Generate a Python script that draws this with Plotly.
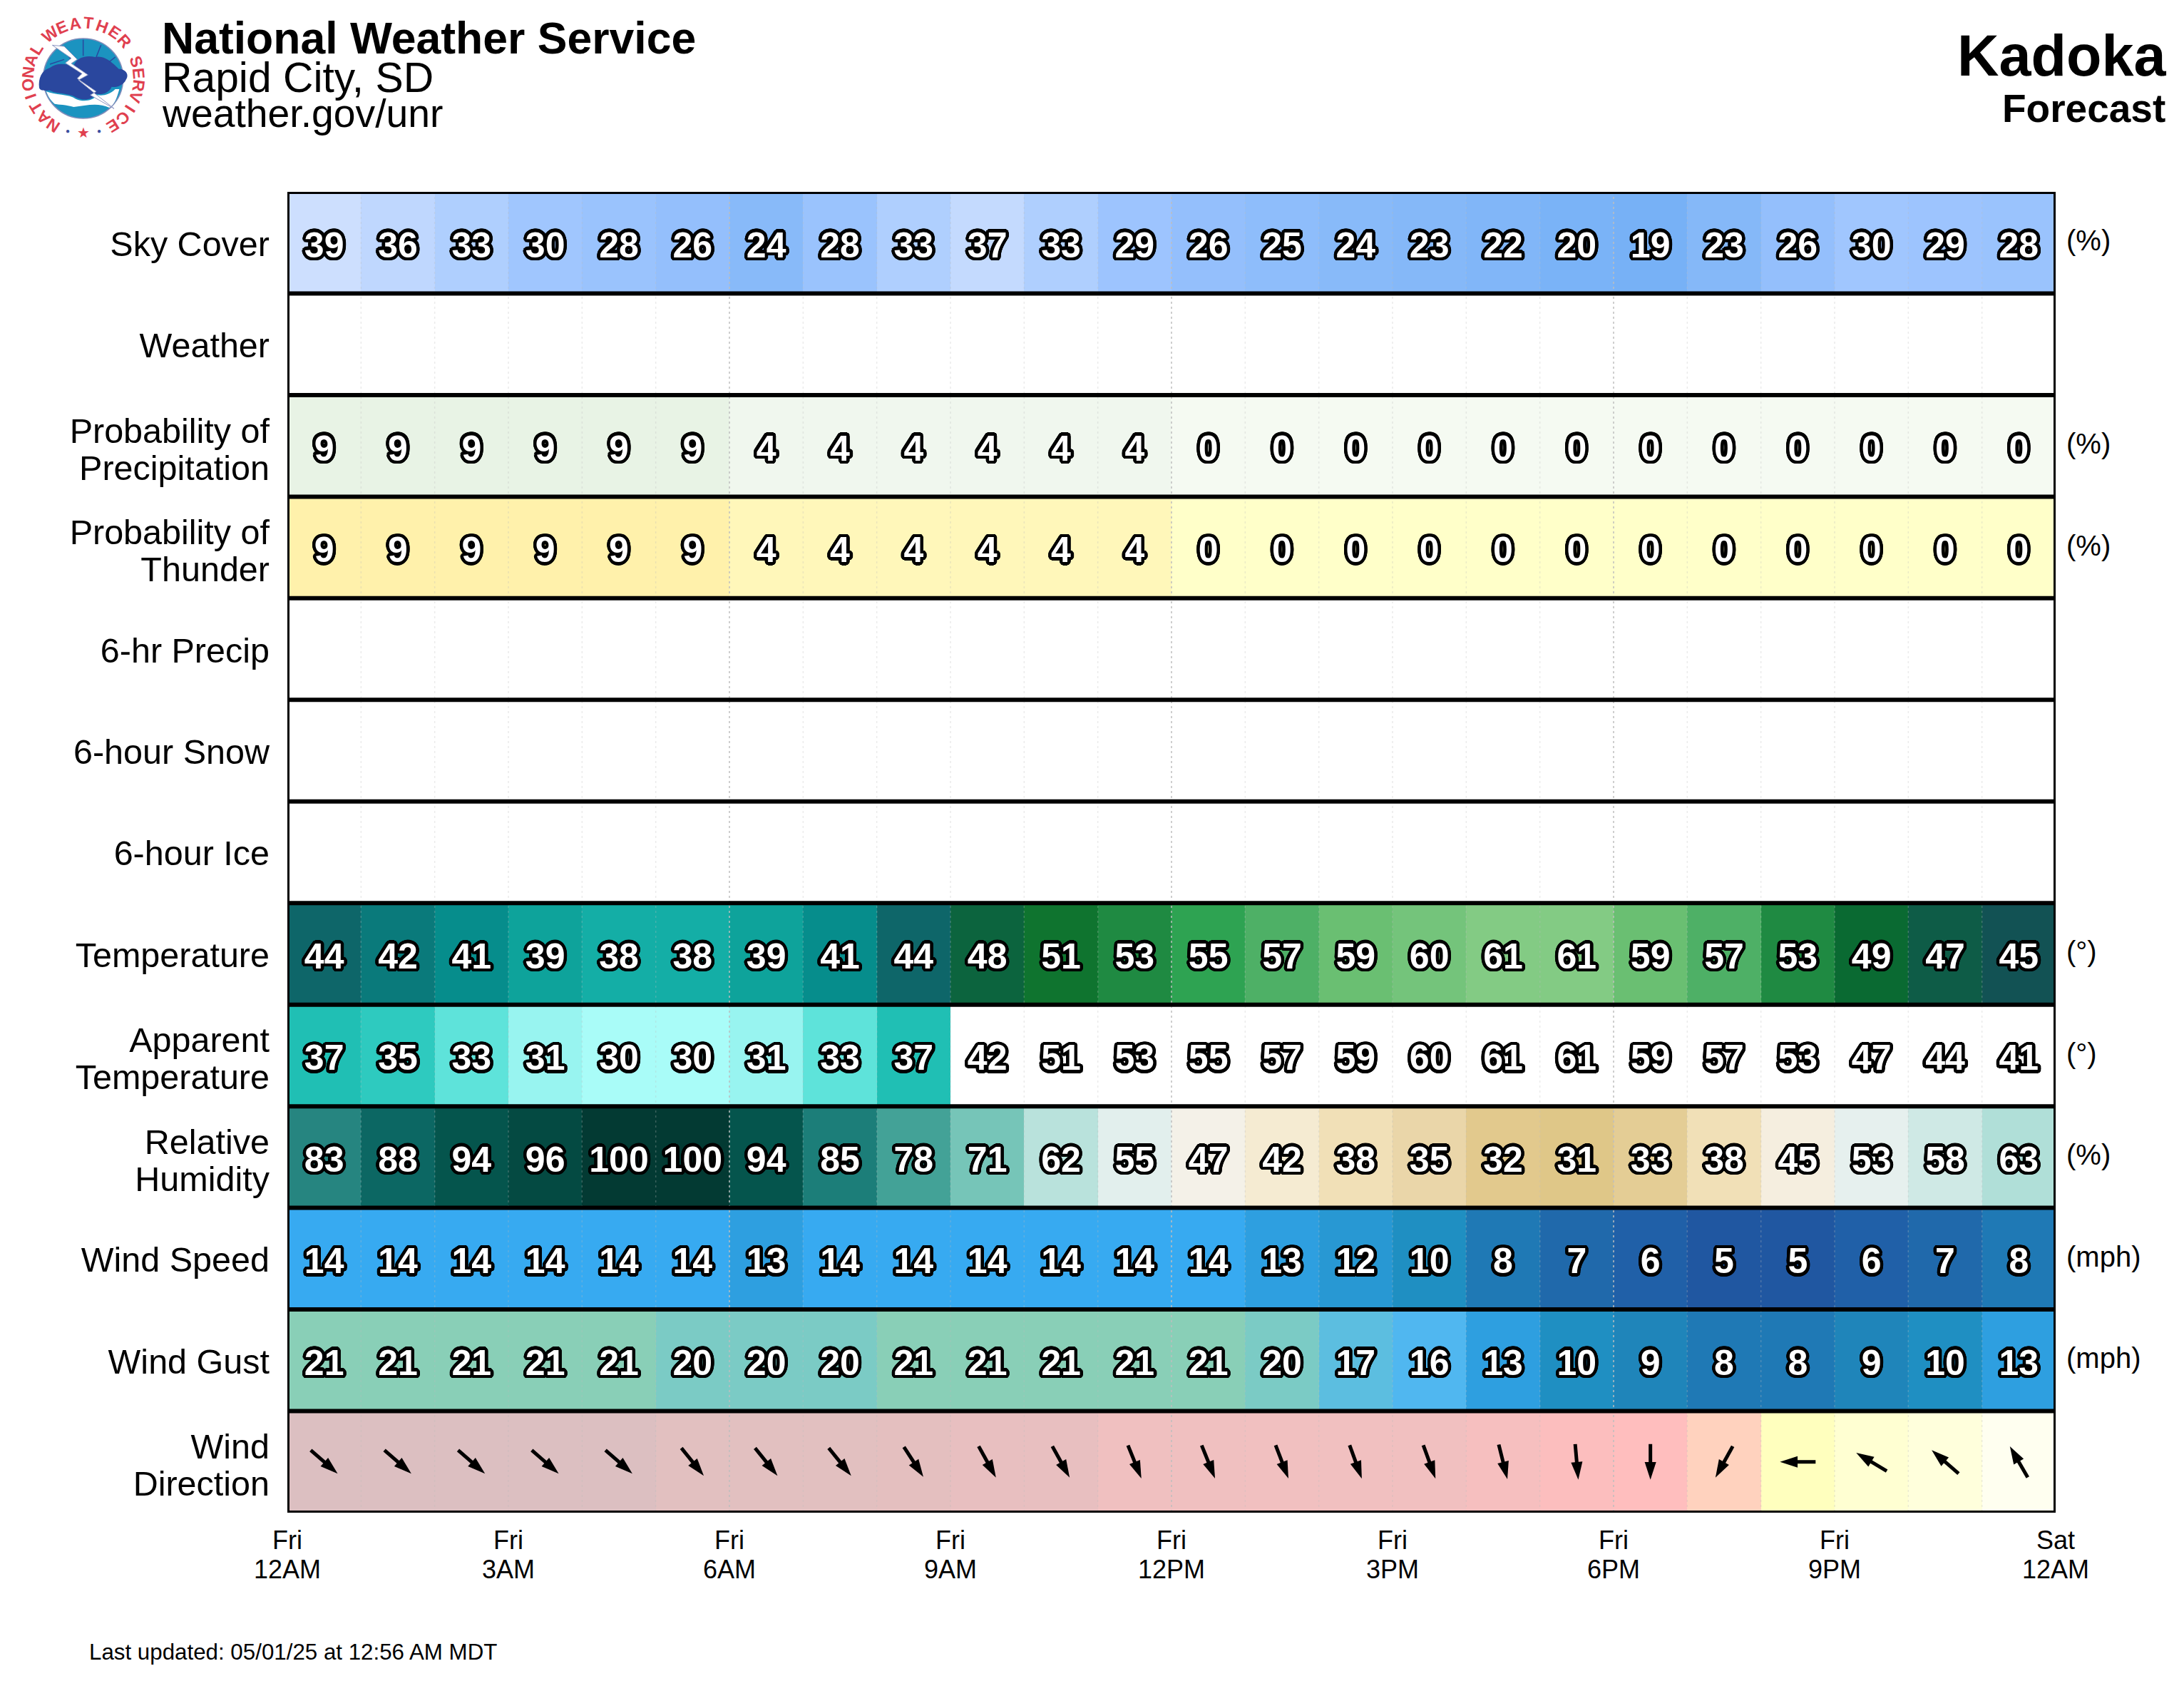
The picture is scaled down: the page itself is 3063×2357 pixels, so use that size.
import math
import re
import plotly.graph_objects as go

W, H = 3063, 2357
L, R, T, B = 403, 2883, 269, 2121
FONT = "Liberation Sans"

# ---------- data ----------
hour_ticks = [0, 3, 6, 9, 12, 15, 18, 21, 24]
day_labels = ["Fri", "Fri", "Fri", "Fri", "Fri", "Fri", "Fri", "Fri", "Sat"]
time_labels = ["12AM", "3AM", "6AM", "9AM", "12PM", "3PM", "6PM", "9PM", "12AM"]

sky_cover = [39, 36, 33, 30, 28, 26, 24, 28, 33, 37, 33, 29, 26, 25, 24, 23, 22, 20, 19, 23, 26, 30, 29, 28]
precip_prob = [9, 9, 9, 9, 9, 9, 4, 4, 4, 4, 4, 4, 0, 0, 0, 0, 0, 0, 0, 0, 0, 0, 0, 0]
thunder_prob = [9, 9, 9, 9, 9, 9, 4, 4, 4, 4, 4, 4, 0, 0, 0, 0, 0, 0, 0, 0, 0, 0, 0, 0]
temperature = [44, 42, 41, 39, 38, 38, 39, 41, 44, 48, 51, 53, 55, 57, 59, 60, 61, 61, 59, 57, 53, 49, 47, 45]
apparent = [37, 35, 33, 31, 30, 30, 31, 33, 37, 42, 51, 53, 55, 57, 59, 60, 61, 61, 59, 57, 53, 47, 44, 41]
humidity = [83, 88, 94, 96, 100, 100, 94, 85, 78, 71, 62, 55, 47, 42, 38, 35, 32, 31, 33, 38, 45, 53, 58, 63]
wind_speed = [14, 14, 14, 14, 14, 14, 13, 14, 14, 14, 14, 14, 14, 13, 12, 10, 8, 7, 6, 5, 5, 6, 7, 8]
wind_gust = [21, 21, 21, 21, 21, 20, 20, 20, 21, 21, 21, 21, 21, 20, 17, 16, 13, 10, 9, 8, 8, 9, 10, 13]
wind_dir = [311, 311, 311, 311, 311, 321, 321, 321, 327, 331, 331, 338, 338, 339, 340, 340, 346, 355, 360, 29, 90, 121, 131, 150]

row_labels = [["Sky Cover"], ["Weather"], ["Probability of", "Precipitation"], ["Probability of", "Thunder"],
              ["6-hr Precip"], ["6-hour Snow"], ["6-hour Ice"], ["Temperature"], ["Apparent", "Temperature"],
              ["Relative", "Humidity"], ["Wind Speed"], ["Wind Gust"], ["Wind", "Direction"]]
row_units = ["(%)", "", "(%)", "(%)", "", "", "", "(°)", "(°)", "(%)", "(mph)", "(mph)", ""]

# ---------- colour scales (value, colour) ----------
sky_colors = [(19, "#77b1f6"), (24, "#88baf9"), (26, "#94bffc"), (30, "#a0c6fe"), (33, "#afcffe"), (36, "#bfd7fe"), (39, "#cddffe")]
pop_colors = [(0, "#f5faf2"), (4, "#f0f7ee"), (9, "#e8f3e5")]
thunder_colors = [(0, "#ffffc9"), (4, "#fff7ba"), (9, "#fff1ab")]
temp_colors = [(30, "#a9fcf8"), (31, "#98f4f0"), (33, "#5ee3da"), (35, "#2ecabf"), (37, "#20bfb4"), (38, "#14aea6"),
               (39, "#0ea39b"), (41, "#068d8c"), (42, "#0a7a7b"), (44, "#0e6669"), (45, "#125254"), (47, "#0e5c47"),
               (48, "#0c643e"), (49, "#0a6a32"), (51, "#0f742f"), (53, "#1f8a42"), (55, "#2ea352"), (57, "#4eb066"),
               (59, "#6abf72"), (60, "#74c47b"), (61, "#83cb84")]
apparent_colors = [(30, "#a9fcf8"), (31, "#98f4f0"), (33, "#5ee3da"), (35, "#2ecabf"), (37, "#20bfb4"), (40, "#20bfb4"),
                   (40, "#ffffff"), (61, "#ffffff")]
rh_colors = [(31, "#dfc788"), (32, "#e2c98d"), (33, "#e4cd95"), (35, "#ead6a9"), (38, "#f1e0b7"), (42, "#f5ebd2"),
             (45, "#f5eedf"), (47, "#f4f1e8"), (53, "#e6f0ee"), (55, "#e2efed"), (58, "#cfe9e5"), (62, "#b9e2dc"),
             (63, "#b0dfd8"), (71, "#76c5b8"), (78, "#43a297"), (83, "#268580"), (85, "#1c7e79"), (88, "#0c6763"),
             (94, "#05554d"), (96, "#044a42"), (100, "#033a33")]
wind_colors = [(5, "#2057a1"), (6, "#2060a8"), (7, "#2069ab"), (8, "#1f79b5"), (9, "#1f85ba"), (10, "#1f8fc2"),
               (12, "#2898d3"), (13, "#2e9fe0"), (14, "#37aaf1"), (16, "#50b7f0"), (17, "#5cbee0"), (20, "#7bcbc5"), (21, "#89cfb7")]
dir_colors = [(0, "#ffbebe"), (29, "#ffd2be"), (90, "#ffffbe"), (121, "#ffffd2"), (131, "#ffffdc"), (150, "#fffff0"),
              (311, "#dcbfc1"), (321, "#e2c0c0"), (327, "#e4bfbf"), (331, "#e8bfc0"), (338, "#f0c0c0"), (340, "#f1c0c0"),
              (346, "#f6bfbf"), (355, "#fcbebe"), (360, "#ffbebe")]

rows = [(0, sky_cover, sky_colors), (2, precip_prob, pop_colors), (3, thunder_prob, thunder_colors),
        (7, temperature, temp_colors), (8, apparent, apparent_colors), (9, humidity, rh_colors),
        (10, wind_speed, wind_colors), (11, wind_gust, wind_colors), (12, wind_dir, dir_colors)]

NH, NR = 24, 13
PXH = (R - L) / NH
PXR = (B - T) / NR
hour_edges = list(range(NH + 1))
hour_mid = [h + 0.5 for h in range(NH)]

fig = go.Figure()

def px_x(px):
    return (px - L) / (R - L)
def px_y(py):
    return 1 - (py - T) / (B - T)

# ---------- cells ----------
for r, values, stops in rows:
    lo, hi = stops[0][0], stops[-1][0]
    scale = [[(v - lo) / (hi - lo), c] for v, c in stops]
    fig.add_trace(go.Heatmap(x=hour_edges, y=[r, r + 1], z=[values], colorscale=scale, zmin=lo, zmax=hi,
                             showscale=False, hoverinfo="skip"))

# ---------- dotted hour lines ----------
def vlines(hours, color, width):
    xs, ys = [], []
    for h in hours:
        xs += [h, h, None]
        ys += [0, NR, None]
    fig.add_trace(go.Scatter(x=xs, y=ys, mode="lines", line=dict(color=color, width=width, dash="3px,4px"),
                             hoverinfo="skip", showlegend=False))
vlines([h for h in range(1, NH) if h % 6], "rgba(190,190,190,0.30)", 1.5)
vlines([6, 12, 18], "rgba(190,190,190,0.75)", 2)

# ---------- wind arrows ----------
ARROW_HALF = 25
HEAD = 13
sx, sy, hx, hy, ha = [], [], [], [], []
for h, d in zip(hour_mid, wind_dir):
    b = math.radians((d + 180) % 360)
    ux, uy = math.sin(b) / PXH, -math.cos(b) / PXR
    sx += [h - ux * ARROW_HALF, h + ux * (ARROW_HALF - HEAD), None]
    sy += [12.5 - uy * ARROW_HALF, 12.5 + uy * (ARROW_HALF - HEAD), None]
    hx.append(h + ux * ARROW_HALF)
    hy.append(12.5 + uy * ARROW_HALF)
    ha.append((d + 180) % 360)
fig.add_trace(go.Scatter(x=sx, y=sy, mode="lines", line=dict(color="black", width=5), hoverinfo="skip", showlegend=False))
fig.add_trace(go.Scatter(x=hx, y=hy, mode="markers", hoverinfo="skip", showlegend=False,
                         marker=dict(symbol="arrow", size=26, angle=ha, color="black", line=dict(width=0))))

# ---------- numbers ----------
N = 24
OUT = 4.5
shadow = ",".join(f"{OUT * math.cos(2 * math.pi * i / N):.2f}px {OUT * math.sin(2 * math.pi * i / N):.2f}px 0 #000" for i in range(N))
for r, values, stops in rows[:-1]:
    fig.add_trace(go.Scatter(x=hour_mid, y=[r + 0.5 + 8 / PXR] * NH, mode="text", text=[str(v) for v in values],
                             textposition="middle center", xaxis="x2", yaxis="y2", hoverinfo="skip", showlegend=False,
                             textfont=dict(family=FONT, size=50, color="white", weight="bold", shadow=shadow)))

# ---------- row frame ----------
shapes = []
for r in range(1, NR):
    shapes.append(dict(type="line", xref="x", yref="y", x0=0, x1=NH, y0=r, y1=r, line=dict(color="black", width=6)))
shapes.append(dict(type="rect", xref="x", yref="y", x0=0, x1=NH, y0=0, y1=NR, line=dict(color="black", width=6)))

# ---------- NWS logo (drawn) ----------
LX, LY = 20, 15
def lp(x, y):
    return f"{px_x(LX + x / 3):.5f},{px_y(LY + y / 3):.5f}"
def logo_path(d):
    out = []
    for cmd, nums in re.findall(r"([MLCZ])([^MLCZ]*)", d):
        vals = [float(v) for v in re.findall(r"-?\d+\.?\d*", nums)]
        pts = [lp(vals[i], vals[i + 1]) for i in range(0, len(vals), 2)]
        out.append(cmd + " ".join(pts))
    return " ".join(out)
def add_path(d, fill, line="rgba(0,0,0,0)", lw=0):
    shapes.append(dict(type="path", xref="paper", yref="paper", path=logo_path(d), fillcolor=fill,
                       line=dict(color=line, width=lw), layer="above"))
CX, CY, CR = 290, 285, 168
shapes.append(dict(type="circle", xref="paper", yref="paper",
                   x0=px_x(LX + (CX - CR) / 3), x1=px_x(LX + (CX + CR) / 3),
                   y0=px_y(LY + (CY - CR) / 3), y1=px_y(LY + (CY + CR) / 3),
                   fillcolor="#1b93c0", line=dict(color="#7f8cba", width=1.5)))
add_path("M135,340 C170,355 230,350 260,372 C290,385 330,380 350,355 C375,360 405,350 425,330 L442,330 C430,375 420,395 400,408 C350,385 300,400 250,405 C220,395 185,395 170,392 C150,375 140,355 135,340 Z", "#ffffff")
add_path("M105,325 C100,285 115,250 150,240 C175,220 215,220 250,235 C255,200 300,185 340,195 C380,185 420,225 440,245 C470,245 485,270 470,290 C460,315 425,325 410,320 C400,345 370,355 345,350 C330,375 290,380 260,365 C230,345 170,350 150,335 C135,335 110,340 105,325 Z", "#2a479e")
for d in ["M290,122 L290,190", "M365,145 L345,195", "M425,195 L400,215", "M215,170 L238,205", "M150,225 L210,205"]:
    add_path(d, "rgba(0,0,0,0)", "#2a479e", 1.5)
add_path("M160,145 L210,150 L265,205 L240,222 L310,270 L270,292 L335,345 L420,412 L320,355 L345,340 L265,285 L285,265 L215,220 L240,200 Z", "#ffffff", "#8f98c4", 1)

annotations = []
def note(text, x, y, size, bold=False, anchor="left", color="black", angle=0):
    annotations.append(dict(xref="paper", yref="paper", x=px_x(x), y=px_y(y), text=text, showarrow=False,
                            xanchor=anchor, yanchor="middle", textangle=angle, borderpad=0, borderwidth=0,
                            font=dict(family=FONT, size=size, color=color, weight="bold" if bold else "normal")))

LOGO_C = (117, 110)
LOGO_RAD = 78
def ring(word, a0, a1):
    for i, ch in enumerate(word):
        a = a0 + (a1 - a0) * i / (len(word) - 1)
        rad = math.radians(a)
        note(ch, LOGO_C[0] + LOGO_RAD * math.sin(rad), LOGO_C[1] - LOGO_RAD * math.cos(rad), 23, True, "center", "#e0404f", a)
ring("NATIONAL", -147, -58)
ring("WEATHER", -37, 48)
ring("SERVICE", 72, 148)
note("★", 117, 186, 20, False, "center", "#e0404f")
note("●", 95, 183, 10, False, "center", "#3b4f9f")
note("●", 139, 183, 10, False, "center", "#3b4f9f")

note("National Weather Service", 227, 53, 62.5, True)
note("Rapid City, SD", 227, 108, 58.8)
note("weather.gov/unr", 227, 159, 55.3)
note("Kadoka", 3039, 78, 81, True, "right")
note("Forecast", 3037, 152, 55, True, "right")
note("Last updated: 05/01/25 at 12:56 AM MDT", 125, 2316, 31.3)

# ---------- axes ----------
LINE_GAP = 26 / PXR
y_vals, y_text = [], []
for r, lines in enumerate(row_labels):
    if len(lines) == 1:
        y_vals.append(r + 0.5 + 1.5 / PXR)
        y_text.append(lines[0])
    else:
        y_vals += [r + 0.5 - LINE_GAP + 4.5 / PXR, r + 0.5 + LINE_GAP + 4.5 / PXR]
        y_text += lines
unit_vals = [r + 0.5 - 3 / PXR for r, u in enumerate(row_units) if u]
unit_text = [u for u in row_units if u]

def x_axis(text, standoff, **kw):
    return dict(range=[0, NH], tickmode="array", tickvals=hour_ticks, ticktext=text, tickfont=dict(family=FONT, size=36, color="black"),
                showgrid=False, zeroline=False, showline=False, ticks="", tickangle=0, ticklabelstandoff=standoff, fixedrange=True, **kw)

fig.update_layout(
    width=W, height=H, autosize=False, showlegend=False,
    margin=dict(l=L, r=W - R, t=T, b=H - B, pad=0),
    paper_bgcolor="white", plot_bgcolor="white",
    font=dict(family=FONT, color="black"),
    xaxis=x_axis(day_labels, 14),
    xaxis2=x_axis(time_labels, 55, overlaying="x", anchor="y", side="bottom"),
    yaxis=dict(range=[NR, 0], tickmode="array", tickvals=y_vals, ticktext=y_text, tickfont=dict(family=FONT, size=48.5, color="black"),
               showgrid=False, zeroline=False, showline=False, ticks="", ticklabelstandoff=24, fixedrange=True),
    yaxis2=dict(range=[NR, 0], overlaying="y", side="right", anchor="x", tickmode="array", tickvals=unit_vals, ticktext=unit_text,
                tickfont=dict(family=FONT, size=40, color="black"), showgrid=False, zeroline=False, showline=False, ticks="",
                ticklabelstandoff=14, fixedrange=True),
    shapes=shapes, annotations=annotations,
)

fig.write_html("out.html", post_script="document.body.style.margin='0';document.body.style.overflow='hidden';",
               config=dict(displayModeBar=False))
